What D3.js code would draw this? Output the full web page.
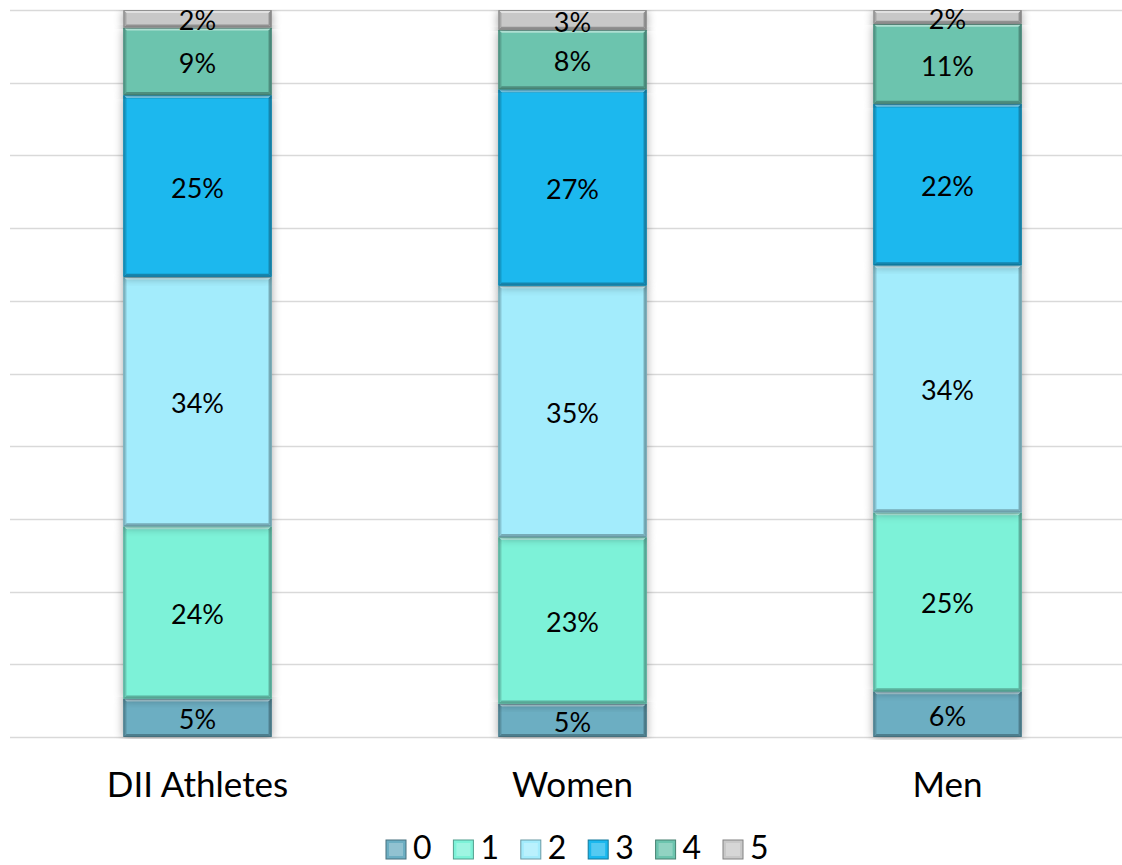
<!DOCTYPE html>
<html>
<head>
<meta charset="utf-8">
<script src="https://cdn.jsdelivr.net/npm/d3@7"></script>
<style>
  html, body { margin: 0; padding: 0; background: #ffffff; }
  svg { display: block; }
  text { font-family: "Lato", "Noto Sans", sans-serif; fill: #000; }
</style>
</head>
<body>
<svg id="chart" width="1122" height="865"></svg>
<script>
// ---- data ----
const categories = ["DII Athletes", "Women", "Men"];
const seriesKeys = ["0", "1", "2", "3", "4", "5"];
const values0 = [5.3, 4.6, 6.3];
const values1 = [23.7, 22.9, 24.6];
const values2 = [34.3, 34.6, 34.0];
const values3 = [25.0, 27.0, 22.2];
const values4 = [9.3, 8.2, 11.0];
const values5 = [2.4, 2.7, 1.9];
const labels0 = ["5%", "5%", "6%"];
const labels1 = ["24%", "23%", "25%"];
const labels2 = ["34%", "35%", "34%"];
const labels3 = ["25%", "27%", "22%"];
const labels4 = ["9%", "8%", "11%"];
const labels5 = ["2%", "3%", "2%"];
const gridTicks = [0, 10, 20, 30, 40, 50, 60, 70, 80, 90, 100];

const seriesValues = [values0, values1, values2, values3, values4, values5];
const seriesLabels = [labels0, labels1, labels2, labels3, labels4, labels5];
const colors = ["#6caec2", "#7df2d8", "#a3ecfc", "#1bb8ee", "#6cc4ae", "#c8c8c8"];

const table = categories.map((c, i) => {
  const row = { category: c };
  seriesKeys.forEach((k, j) => row[k] = seriesValues[j][i]);
  return row;
});

const svg = d3.select("#chart");
const plot = { left: 10, right: 1135, top: 10, bottom: 737 };

const x = d3.scaleBand().domain(categories).range([plot.left, plot.right]).paddingInner(0.605).paddingOuter(0.3025);
const y = d3.scaleLinear().domain([0, 100]).range([plot.bottom, plot.top]);

// defs: shadow
const defs = svg.append("defs");
const f = defs.append("filter").attr("id", "shadow").attr("x", "-20%").attr("y", "-5%").attr("width", "140%").attr("height", "110%");
f.append("feGaussianBlur").attr("in", "SourceAlpha").attr("stdDeviation", 5).attr("result", "b");
f.append("feOffset").attr("in", "b").attr("dx", 0).attr("dy", 1).attr("result", "o");
f.append("feComponentTransfer").attr("in", "o").attr("result", "s")
  .append("feFuncA").attr("type", "linear").attr("slope", 0.35);
const m = f.append("feMerge");
m.append("feMergeNode").attr("in", "s");
m.append("feMergeNode").attr("in", "SourceGraphic");

// gridlines
svg.append("g").selectAll("line").data(gridTicks).join("line")
  .attr("x1", 10).attr("x2", 1122)
  .attr("y1", d => Math.round(y(d)) + 0.5).attr("y2", d => Math.round(y(d)) + 0.5)
  .attr("stroke", "#d9d9d9").attr("stroke-width", 1.5);

const stack = d3.stack().keys(seriesKeys);
const stacked = stack(table);

const barsG = svg.append("g");
const bev = 3;
stacked.forEach((layer, li) => {
  const base = d3.color(colors[li]);
  const light = d3.interpolateRgb(colors[li], "#ffffff")(0.45);
  const dark = base.darker(0.9).formatHex();
  const dark2 = base.darker(0.5).formatHex();
  const g = barsG.append("g");
  layer.forEach((d, i) => {
    const x0 = x(d.data.category), w = x.bandwidth();
    const yTop = y(d[1]), yBot = y(d[0]);
    const h = yBot - yTop;
    const seg = g.append("g").attr("filter", "url(#shadow)");
    seg.append("rect").attr("x", x0).attr("y", yTop).attr("width", w).attr("height", h)
      .attr("fill", colors[li]);
    seg.append("path").attr("d", `M${x0},${yTop}L${x0 + w},${yTop}L${x0 + w - bev},${yTop + bev}L${x0 + bev},${yTop + bev}Z`).attr("fill", light);
    seg.append("path").attr("d", `M${x0},${yBot}L${x0 + w},${yBot}L${x0 + w - bev},${yBot - bev}L${x0 + bev},${yBot - bev}Z`).attr("fill", dark);
    seg.append("path").attr("d", `M${x0},${yTop}L${x0 + bev},${yTop + bev}L${x0 + bev},${yBot - bev}L${x0},${yBot}Z`).attr("fill", dark2);
    seg.append("path").attr("d", `M${x0 + w},${yTop}L${x0 + w - bev},${yTop + bev}L${x0 + w - bev},${yBot - bev}L${x0 + w},${yBot}Z`).attr("fill", dark);
    seg.append("rect").attr("x", x0 + 0.5).attr("y", yTop + 0.5).attr("width", w - 1).attr("height", h - 1)
      .attr("fill", "none").attr("stroke", base.darker(1.3).formatHex()).attr("stroke-width", 1).attr("stroke-opacity", 0.8);
  });
});

// data labels
const labG = svg.append("g");
stacked.forEach((layer, li) => {
  layer.forEach((d, i) => {
    labG.append("text")
      .attr("x", x(d.data.category) + x.bandwidth() / 2)
      .attr("y", (y(d[0]) + y(d[1])) / 2 + 2)
      .attr("dy", "0.36em")
      .attr("text-anchor", "middle")
      .attr("font-size", 27)
      .text(seriesLabels[li][i]);
  });
});

// category axis labels
const xAxis = d3.axisBottom(x).tickSize(0).tickPadding(0);
const axG = svg.append("g").attr("transform", `translate(0,${plot.bottom})`).call(xAxis);
axG.select(".domain").remove();
axG.selectAll("text").attr("font-size", 35).attr("fill", "#000").attr("y", 47).attr("dy", "0.36em")
  .style("font-family", "Lato, 'Noto Sans', sans-serif");

// legend
const legX = d3.scalePoint().domain(seriesKeys).range([386, 723]);
const leg = svg.append("g");
seriesKeys.forEach((k, i) => {
  const lx = legX(k);
  const base = d3.color(colors[i]);
  const gg = leg.append("g");
  gg.append("rect").attr("x", lx).attr("y", 840).attr("width", 20).attr("height", 19)
    .attr("fill", colors[i]).attr("stroke", base.darker(1.2).formatHex()).attr("stroke-width", 1);
  gg.append("rect").attr("x", lx + 3).attr("y", 843).attr("width", 14).attr("height", 13)
    .attr("fill", d3.interpolateRgb(colors[i], "#ffffff")(0.25));
  gg.append("text").attr("x", lx + 27).attr("y", 847).attr("dy", "0.36em")
    .attr("font-size", 32).text(k);
});
</script>
</body>
</html>
